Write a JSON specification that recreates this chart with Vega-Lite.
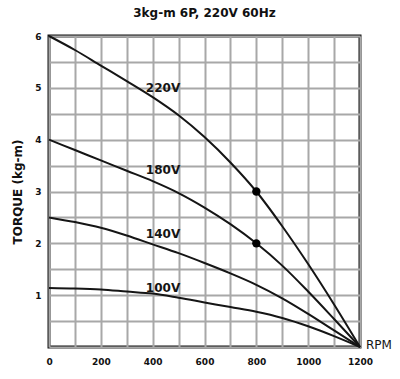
{
  "$schema": "https://vega.github.io/schema/vega-lite/v6.json",
  "autosize": "none",
  "width": 311,
  "height": 311,
  "padding": {"left": 49, "top": 36, "right": 40, "bottom": 32},
  "background": "white",
  "title": {"text": "3kg-m  6P, 220V  60Hz", "fontSize": 12, "font": "DejaVu Sans", "fontWeight": "bold", "color": "#111", "offset": 12, "anchor": "middle"},
  "config": {
    "view": {"stroke": "#111", "strokeWidth": 3},
    "axis": {"grid": true, "gridColor": "#a8a8a8", "gridWidth": 2, "gridOpacity": 1, "domain": false, "ticks": false, "labelFont": "DejaVu Sans", "labelFontWeight": "bold", "labelFontSize": 9, "labelColor": "#111", "titleFont": "DejaVu Sans", "titleFontWeight": "bold", "titleColor": "#111"}
  },
  "datasets": {
    "curves": [
      {"series": "220V", "rpm": 0, "torque": 6.0},
      {"series": "220V", "rpm": 100, "torque": 5.73},
      {"series": "220V", "rpm": 200, "torque": 5.43},
      {"series": "220V", "rpm": 300, "torque": 5.13},
      {"series": "220V", "rpm": 400, "torque": 4.82},
      {"series": "220V", "rpm": 500, "torque": 4.47},
      {"series": "220V", "rpm": 600, "torque": 4.05},
      {"series": "220V", "rpm": 700, "torque": 3.56},
      {"series": "220V", "rpm": 800, "torque": 3.0},
      {"series": "220V", "rpm": 900, "torque": 2.33},
      {"series": "220V", "rpm": 1000, "torque": 1.6},
      {"series": "220V", "rpm": 1100, "torque": 0.82},
      {"series": "220V", "rpm": 1200, "torque": 0.0},
      {"series": "180V", "rpm": 0, "torque": 4.0},
      {"series": "180V", "rpm": 100, "torque": 3.8},
      {"series": "180V", "rpm": 200, "torque": 3.6},
      {"series": "180V", "rpm": 300, "torque": 3.4},
      {"series": "180V", "rpm": 400, "torque": 3.2},
      {"series": "180V", "rpm": 500, "torque": 2.97},
      {"series": "180V", "rpm": 600, "torque": 2.69},
      {"series": "180V", "rpm": 700, "torque": 2.37},
      {"series": "180V", "rpm": 800, "torque": 2.0},
      {"series": "180V", "rpm": 900, "torque": 1.57},
      {"series": "180V", "rpm": 1000, "torque": 1.07},
      {"series": "180V", "rpm": 1100, "torque": 0.54},
      {"series": "180V", "rpm": 1200, "torque": 0.0},
      {"series": "140V", "rpm": 0, "torque": 2.5},
      {"series": "140V", "rpm": 100, "torque": 2.41},
      {"series": "140V", "rpm": 200, "torque": 2.3},
      {"series": "140V", "rpm": 300, "torque": 2.15},
      {"series": "140V", "rpm": 400, "torque": 1.98},
      {"series": "140V", "rpm": 500, "torque": 1.81},
      {"series": "140V", "rpm": 600, "torque": 1.62},
      {"series": "140V", "rpm": 700, "torque": 1.42},
      {"series": "140V", "rpm": 800, "torque": 1.2},
      {"series": "140V", "rpm": 900, "torque": 0.94},
      {"series": "140V", "rpm": 1000, "torque": 0.64},
      {"series": "140V", "rpm": 1100, "torque": 0.32},
      {"series": "140V", "rpm": 1200, "torque": 0.0},
      {"series": "100V", "rpm": 0, "torque": 1.14},
      {"series": "100V", "rpm": 100, "torque": 1.13},
      {"series": "100V", "rpm": 200, "torque": 1.11},
      {"series": "100V", "rpm": 300, "torque": 1.07},
      {"series": "100V", "rpm": 400, "torque": 1.03},
      {"series": "100V", "rpm": 500, "torque": 0.95},
      {"series": "100V", "rpm": 600, "torque": 0.86},
      {"series": "100V", "rpm": 700, "torque": 0.77},
      {"series": "100V", "rpm": 800, "torque": 0.68},
      {"series": "100V", "rpm": 900, "torque": 0.56},
      {"series": "100V", "rpm": 1000, "torque": 0.4},
      {"series": "100V", "rpm": 1100, "torque": 0.21},
      {"series": "100V", "rpm": 1200, "torque": 0.0}
    ],
    "dots": [
      {"rpm": 800, "torque": 3.0},
      {"rpm": 800, "torque": 2.0}
    ],
    "labels": [
      {"rpm": 440, "torque": 5.0, "label": "220V"},
      {"rpm": 440, "torque": 3.42, "label": "180V"},
      {"rpm": 440, "torque": 2.18, "label": "140V"},
      {"rpm": 440, "torque": 1.14, "label": "100V"}
    ],
    "axisnote": [
      {"rpm": 1200, "torque": 0, "label": "RPM"}
    ]
  },
  "encoding": {
    "x": {"field": "rpm", "type": "quantitative", "scale": {"domain": [0, 1200], "nice": false},
      "axis": {"title": null, "values": [0,100,200,300,400,500,600,700,800,900,1000,1100,1200], "labelExpr": "datum.value % 200 == 0 ? datum.value : ''", "labelPadding": 10, "labelFlush": false}},
    "y": {"field": "torque", "type": "quantitative", "scale": {"domain": [0, 6], "nice": false},
      "axis": {"title": "TORQUE (kg-m)", "titleFontSize": 12, "titlePadding": 10, "values": [0,0.5,1,1.5,2,2.5,3,3.5,4,4.5,5,5.5,6], "labelExpr": "datum.value % 1 == 0 && datum.value > 0 ? datum.value : ''", "labelPadding": 8, "labelFlush": false}}
  },
  "layer": [
    {
      "data": {"name": "curves"},
      "mark": {"type": "line", "color": "#151515", "strokeWidth": 2, "interpolate": "monotone"},
      "encoding": {"detail": {"field": "series"}}
    },
    {
      "data": {"name": "dots"},
      "mark": {"type": "circle", "color": "#000", "opacity": 1, "size": 70}
    },
    {
      "data": {"name": "labels"},
      "mark": {"type": "text", "font": "DejaVu Sans", "fontWeight": "bold", "fontSize": 12, "color": "#151515", "align": "center", "baseline": "middle"},
      "encoding": {"text": {"field": "label"}}
    },
    {
      "data": {"name": "axisnote"},
      "mark": {"type": "text", "font": "DejaVu Sans", "fontSize": 12, "color": "#151515", "align": "left", "baseline": "middle", "dx": 6, "dy": -2},
      "encoding": {"text": {"field": "label"}}
    }
  ]
}
